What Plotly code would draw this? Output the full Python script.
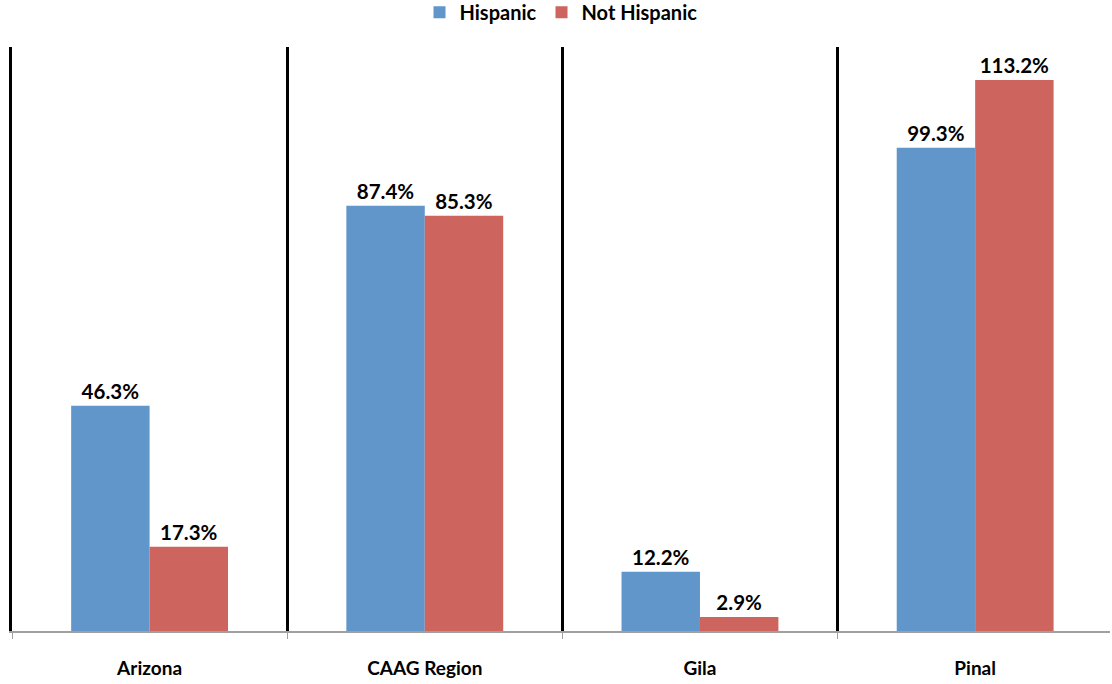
import plotly.graph_objects as go

categories = ["Arizona", "CAAG Region", "Gila", "Pinal"]
hispanic = [46.3, 87.4, 12.2, 99.3]
not_hispanic = [17.3, 85.3, 2.9, 113.2]

BLUE = "#6096C9"
RED = "#CD645D"
FONT = "Lato, 'Open Sans', sans-serif"

fig = go.Figure()
for name, vals, col in [("Hispanic", hispanic, BLUE), ("Not Hispanic", not_hispanic, RED)]:
    fig.add_trace(go.Bar(x=categories, y=vals, name=name, marker_color=col,
                         marker_line_width=0,
                         texttemplate="%{y:.1f}%", textposition="outside",
                         textfont=dict(size=20.5, color="black", family=FONT, weight="bold"),
                         cliponaxis=False))

fig.update_layout(
    width=1112, height=684,
    margin=dict(l=12, r=2, t=47, b=53, autoexpand=False),
    plot_bgcolor="white", paper_bgcolor="white",
    barmode="group", bargap=0.43, bargroupgap=0,
    font=dict(family=FONT, color="black"),
    legend=dict(orientation="h", x=0.5, xanchor="center", y=1.093, yanchor="top",
                font=dict(size=20, family=FONT, weight="bold"),
                traceorder="normal"),
    showlegend=True,
)
fig.update_xaxes(
    range=[-0.5, 3.49], tickson="boundaries", ticks="outside", ticklen=6,
    tickcolor="#A0A0A0", tickwidth=1,
    showgrid=True, gridcolor="black", gridwidth=3,
    showline=True, linecolor="#A0A0A0", linewidth=2,
    tickfont=dict(size=19, family=FONT, weight="bold", color="black"),
    ticklabelstandoff=19,
)
fig.update_yaxes(
    range=[0, 120], showgrid=False, showticklabels=False, ticks="",
    showline=True, linecolor="black", linewidth=3, zeroline=False,
)

fig.write_html("out.html")
